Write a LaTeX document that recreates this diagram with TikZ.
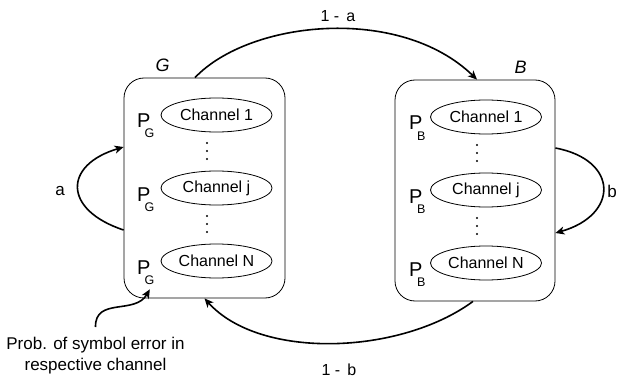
\documentclass[tikz,border=0pt]{standalone}
\usepackage{fontspec}
\setmainfont{Liberation Sans}
\usetikzlibrary{arrows.meta,shapes.geometric}

% P with a lowered, tucked-in subscript
\newcommand{\probsub}[2]{P\kern#1\raisebox{-10pt}{\fontsize{12.5}{15}\selectfont #2}}

\begin{document}
\begin{tikzpicture}[x=1pt,y=-1pt,
  statebox/.style={draw, line width=0.8pt, rounded corners=20pt, inner sep=0pt},
  chan/.style={draw, ellipse, line width=0.8pt, minimum width=111pt, minimum height=34pt,
               inner sep=0pt, font=\fontsize{16}{19}\selectfont},
  bigP/.style={inner sep=0pt, anchor=base west, font=\fontsize{20}{24}\selectfont},
  statename/.style={inner sep=0pt, anchor=base, font=\fontsize{18}{22}\selectfont\itshape},
  lbl/.style={inner sep=0pt, anchor=base, font=\fontsize{16}{19}\selectfont},
  trans/.style={line width=1.6pt, -{Stealth[length=9pt,width=8pt,inset=2.5pt]}},
  vdot/.style={fill=black, draw=none}
]
\useasboundingbox (0,0) rectangle (621,385);

% the two states
\node[statebox, minimum width=161pt, minimum height=220pt] (G) at (204.5,188) {};
\node[statebox, minimum width=160pt, minimum height=221pt] (B) at (475,190.5) {};
\node[statename] (Gname) at (162.5,72) {G};
\node[statename] (Bname) at (520.5,74) {B};

% channels of the good state
\node[chan] (g1) at (216.5,115) {Channel 1};
\node[chan] (gj) at (216.5,188) {Channel j};
\node[chan] (gN) at (216.5,261) {Channel N};
\node[bigP] (pg1) at (137,128) {\probsub{-5.8pt}{G}};
\node[bigP] (pgj) at (137,201) {\probsub{-5.8pt}{G}};
\node[bigP] (pgN) at (137,274) {\probsub{-5.8pt}{G}};

% channels of the bad state
\node[chan] (b1) at (486,117) {Channel 1};
\node[chan] (bj) at (486,190) {Channel j};
\node[chan] (bN) at (486,263) {Channel N};
\node[bigP] (pb1) at (409,130) {\probsub{-5.5pt}{B}};
\node[bigP] (pbj) at (409,203) {\probsub{-5.5pt}{B}};
\node[bigP] (pbN) at (409,276) {\probsub{-5.5pt}{B}};

% vertical dots between channels
\foreach \y in {143,151,159,216,224,232} \fill[vdot] (207,\y) circle (1.1pt);
\foreach \y in {145,153,161,218,226,234} \fill[vdot] (477,\y) circle (1.1pt);

% transition labels
\node[lbl] (la) at (338,22) {1 -\ \,a};
\node[lbl] (lb) at (339,375) {1 -\ \,b};
\node[lbl, font=\fontsize{17}{20}\selectfont] (sa) at (60,195) {a};
\node[lbl, font=\fontsize{17}{20}\selectfont] (sb) at (612,197) {b};

% transitions
\draw[trans] ([xshift=-9.5pt]G.north) .. controls (250,20) and (400,5) .. ([xshift=2pt]B.north);
\draw[trans] ([xshift=-2pt]B.south) .. controls (400,355) and (260,360) .. (G.south);
\draw[trans] ([yshift=-42pt]G.west) .. controls (63,210) and (63,165) .. ([yshift=41pt]G.west);
\draw[trans] ([yshift=42.5pt]B.east) .. controls (619,160) and (619,215) .. ([yshift=-42.5pt]B.east);

% annotation
\node[inner sep=0pt, anchor=north, align=center, font=\fontsize{17}{21}\selectfont] (note)
  at (95.5,337) {Prob. of symbol error in\\respective channel};
\draw[trans] ([yshift=10pt]note.north) .. controls (95,297) and (135,315) .. ([xshift=4pt,yshift=-5pt]pgN.south);
\end{tikzpicture}
\end{document}
